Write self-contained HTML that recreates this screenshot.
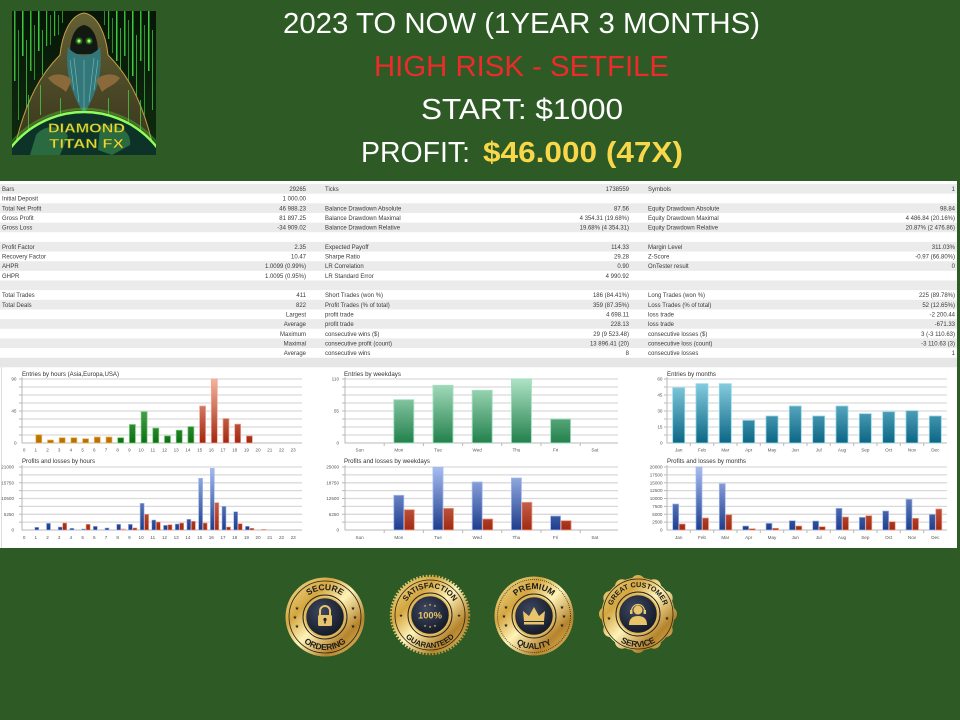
<!DOCTYPE html>
<html><head><meta charset="utf-8"><style>
html,body{margin:0;padding:0;width:960px;height:720px;overflow:hidden;background:#2d5a25;}
svg{display:block;}
</style></head><body>
<svg width="960" height="720" viewBox="0 0 960 720" xmlns="http://www.w3.org/2000/svg" font-family="'Liberation Sans', sans-serif">
<defs>
  <linearGradient id="gOr" gradientUnits="userSpaceOnUse" x1="0" y1="379" x2="0" y2="443"><stop offset="0" stop-color="#f5c26a"/><stop offset="1" stop-color="#b86e00"/></linearGradient>
  <linearGradient id="gGr" gradientUnits="userSpaceOnUse" x1="0" y1="379" x2="0" y2="443"><stop offset="0" stop-color="#7fd07f"/><stop offset="1" stop-color="#0e6e14"/></linearGradient>
  <linearGradient id="gRd" gradientUnits="userSpaceOnUse" x1="0" y1="379" x2="0" y2="443"><stop offset="0" stop-color="#f4b4a0"/><stop offset="1" stop-color="#a3260f"/></linearGradient>
  <linearGradient id="gWk" gradientUnits="userSpaceOnUse" x1="0" y1="379" x2="0" y2="443"><stop offset="0" stop-color="#aee3c5"/><stop offset="1" stop-color="#22804c"/></linearGradient>
  <linearGradient id="gMo" gradientUnits="userSpaceOnUse" x1="0" y1="379" x2="0" y2="443"><stop offset="0" stop-color="#8dd3e6"/><stop offset="1" stop-color="#0b6684"/></linearGradient>
  <linearGradient id="gBl" gradientUnits="userSpaceOnUse" x1="0" y1="467" x2="0" y2="530"><stop offset="0" stop-color="#a8bdf0"/><stop offset="1" stop-color="#1d3d8c"/></linearGradient>
  <linearGradient id="gRb" gradientUnits="userSpaceOnUse" x1="0" y1="467" x2="0" y2="530"><stop offset="0" stop-color="#eda08e"/><stop offset="1" stop-color="#a02a12"/></linearGradient>
  <linearGradient id="gold" gradientUnits="userSpaceOnUse" x1="-40" y1="-40" x2="40" y2="40"><stop offset="0" stop-color="#f8e7a0"/><stop offset="0.3" stop-color="#d4a640"/><stop offset="0.5" stop-color="#fff3b8"/><stop offset="0.75" stop-color="#b5832a"/><stop offset="1" stop-color="#f0d27a"/></linearGradient>
  <radialGradient id="navy" cx="0.4" cy="0.35" r="0.7"><stop offset="0" stop-color="#3d4760"/><stop offset="1" stop-color="#111724"/></radialGradient>
  <linearGradient id="logoBg" x1="0" y1="0" x2="0" y2="1"><stop offset="0" stop-color="#071607"/><stop offset="1" stop-color="#0f2c0f"/></linearGradient>
  <linearGradient id="robe" x1="0" y1="0" x2="0" y2="1"><stop offset="0" stop-color="#646034"/><stop offset="1" stop-color="#34311a"/></linearGradient>
  <clipPath id="logoClip"><rect x="12" y="11" width="144" height="144"/></clipPath>
  <path id="arcT" d="M -27 0 A 27 27 0 0 1 27 0"/>
  <path id="arcB" d="M -33 0 A 33 33 0 0 0 33 0"/>
</defs>

<!-- LOGO -->
<g clip-path="url(#logoClip)">
  <rect x="12" y="11" width="144" height="144" fill="url(#logoBg)"/>
  <g fill="#45de45">
    <rect x="14" y="11" width="1.5" height="70" opacity="0.8"/><rect x="18" y="30" width="1" height="90" opacity="0.6"/>
    <rect x="22" y="11" width="1.5" height="45" opacity="0.9"/><rect x="26" y="40" width="1" height="80" opacity="0.7"/>
    <rect x="30" y="11" width="1.5" height="60" opacity="0.8"/><rect x="34" y="25" width="1" height="55" opacity="0.6"/>
    <rect x="38" y="11" width="1.5" height="40" opacity="0.9"/><rect x="42" y="30" width="1" height="45" opacity="0.7"/>
    <rect x="46" y="11" width="1.2" height="35" opacity="0.8"/><rect x="50" y="15" width="1" height="30" opacity="0.6"/>
    <rect x="54" y="11" width="1.2" height="25" opacity="0.8"/><rect x="58" y="15" width="1" height="20" opacity="0.6"/>
    <rect x="62" y="11" width="1" height="12" opacity="0.6"/><rect x="104" y="11" width="1" height="14" opacity="0.6"/>
    <rect x="108" y="11" width="1.2" height="28" opacity="0.8"/><rect x="112" y="18" width="1" height="35" opacity="0.6"/>
    <rect x="116" y="11" width="1.5" height="50" opacity="0.9"/><rect x="120" y="28" width="1" height="55" opacity="0.7"/>
    <rect x="124" y="11" width="1.5" height="45" opacity="0.8"/><rect x="128" y="20" width="1" height="75" opacity="0.6"/>
    <rect x="132" y="11" width="1.5" height="65" opacity="0.9"/><rect x="136" y="35" width="1" height="70" opacity="0.7"/>
    <rect x="140" y="11" width="1.5" height="50" opacity="0.8"/><rect x="144" y="25" width="1" height="90" opacity="0.6"/>
    <rect x="148" y="11" width="1.5" height="60" opacity="0.9"/><rect x="152" y="30" width="1" height="80" opacity="0.7"/>
  </g>
  <path d="M84 13 C70 15 62 35 60 55 C45 70 25 95 12 160 L156 160 C143 95 123 70 108 55 C106 35 98 15 84 13 Z" fill="url(#robe)" stroke="#c0a048" stroke-width="1"/>
  <path d="M84 25 C74 27 70 39 70 54 L98 54 C98 39 94 27 84 25 Z" fill="#121812"/>
  <circle cx="79" cy="41" r="3.5" fill="#5aff3a" opacity="0.35"/><circle cx="89" cy="41" r="3.5" fill="#5aff3a" opacity="0.35"/>
  <circle cx="79" cy="41" r="1.6" fill="#9aff6a"/><circle cx="89" cy="41" r="1.6" fill="#9aff6a"/>
  <path d="M68 47 C64 75 74 98 84 114 C94 98 104 75 100 47 C92 58 76 58 68 47 Z" fill="#33777a"/>
  <path d="M74 58 L79 102 M84 60 L84 110 M94 58 L89 102 M70 60 L74 90 M98 60 L94 90" stroke="#6ab8b0" stroke-width="0.7" fill="none"/>
  <path d="M48 78 C55 72 66 74 72 80 L66 92 C60 86 54 86 48 78 Z" fill="#8a6a3a"/>
  <path d="M120 78 C113 72 102 74 96 80 L102 92 C108 86 114 86 120 78 Z" fill="#8a6a3a"/>
  <g fill="#45de45" opacity="0.7"><rect x="28" y="95" width="1" height="40"/><rect x="40" y="85" width="1" height="30"/><rect x="128" y="90" width="1" height="40"/><rect x="140" y="100" width="1" height="35"/><rect x="60" y="98" width="1" height="20"/><rect x="108" y="98" width="1" height="20"/></g>
  <circle cx="84" cy="205" r="93" fill="#0d3328" stroke="#8cff5a" stroke-width="2.5"/>
  <circle cx="84" cy="205" r="96" fill="none" stroke="#5adf3a" stroke-width="2.5" opacity="0.35"/>
  <path d="M36 135 C46 123 62 126 68 136 L60 155 L30 155 Z" fill="#2a6a40"/>
  <path d="M100 126 C115 122 132 130 130 145 L112 155 L98 150 Z" fill="#2a6a40"/>
  <text x="86.5" y="132.7" text-anchor="middle" font-size="12.5" font-weight="bold" fill="#f3d23c" stroke="#2d6a14" stroke-width="0.4" textLength="77" lengthAdjust="spacingAndGlyphs">DIAMOND</text>
  <text x="86.5" y="148" text-anchor="middle" font-size="12.5" font-weight="bold" fill="#f3d23c" stroke="#2d6a14" stroke-width="0.4" textLength="75" lengthAdjust="spacingAndGlyphs">TITAN FX</text>
</g>

<!-- HEADER -->
<text x="283" y="33" font-size="29" fill="#ffffff" textLength="477" lengthAdjust="spacingAndGlyphs">2023 TO NOW (1YEAR 3 MONTHS)</text>
<text x="374" y="76" font-size="29" fill="#ee2a2a" textLength="295" lengthAdjust="spacingAndGlyphs">HIGH RISK - SETFILE</text>
<text x="421" y="119" font-size="29" fill="#ffffff" textLength="202" lengthAdjust="spacingAndGlyphs">START: $1000</text>
<text x="361" y="162" font-size="29" fill="#ffffff" textLength="109" lengthAdjust="spacingAndGlyphs">PROFIT:</text>
<text x="483" y="162" font-size="29" font-weight="bold" fill="#f8d84a" textLength="200" lengthAdjust="spacingAndGlyphs">$46.000 (47X)</text>

<!-- WHITE PANEL -->
<rect x="0" y="181" width="957" height="367" fill="#ffffff"/>
<line x1="1.5" y1="367" x2="1.5" y2="548" stroke="#dcdcdc" stroke-width="1"/>
<g fill="#ebebeb">
  <rect x="0" y="184" width="957" height="9.65"/>
  <rect x="0" y="203.3" width="957" height="9.65"/>
  <rect x="0" y="222.6" width="957" height="9.65"/>
  <rect x="0" y="241.9" width="957" height="9.65"/>
  <rect x="0" y="261.2" width="957" height="9.65"/>
  <rect x="0" y="280.5" width="957" height="9.65"/>
  <rect x="0" y="299.8" width="957" height="9.65"/>
  <rect x="0" y="319.1" width="957" height="9.65"/>
  <rect x="0" y="338.4" width="957" height="9.65"/>
  <rect x="0" y="357.7" width="957" height="9.6" fill="#e6e6e6"/>
</g>

<!-- TABLE TEXT -->
<g font-size="6" fill="#3a3a3a">
  <text x="2" y="191">Bars</text><text x="306" y="191" text-anchor="end">29265</text>
  <text x="2" y="200.65">Initial Deposit</text><text x="306" y="200.65" text-anchor="end">1 000.00</text>
  <text x="2" y="210.3">Total Net Profit</text><text x="306" y="210.3" text-anchor="end">46 988.23</text>
  <text x="2" y="219.95">Gross Profit</text><text x="306" y="219.95" text-anchor="end">81 897.25</text>
  <text x="2" y="229.6">Gross Loss</text><text x="306" y="229.6" text-anchor="end">-34 909.02</text>
  <text x="2" y="248.9">Profit Factor</text><text x="306" y="248.9" text-anchor="end">2.35</text>
  <text x="2" y="258.55">Recovery Factor</text><text x="306" y="258.55" text-anchor="end">10.47</text>
  <text x="2" y="268.2">AHPR</text><text x="306" y="268.2" text-anchor="end">1.0099 (0.99%)</text>
  <text x="2" y="277.85">GHPR</text><text x="306" y="277.85" text-anchor="end">1.0095 (0.95%)</text>
  <text x="2" y="297.15">Total Trades</text><text x="306" y="297.15" text-anchor="end">411</text>
  <text x="2" y="306.8">Total Deals</text><text x="306" y="306.8" text-anchor="end">822</text>
  <text x="306" y="316.45" text-anchor="end">Largest</text>
  <text x="306" y="326.1" text-anchor="end">Average</text>
  <text x="306" y="335.75" text-anchor="end">Maximum</text>
  <text x="306" y="345.4" text-anchor="end">Maximal</text>
  <text x="306" y="355.05" text-anchor="end">Average</text>

  <text x="325" y="191">Ticks</text><text x="629" y="191" text-anchor="end">1738559</text>
  <text x="325" y="210.3">Balance Drawdown Absolute</text><text x="629" y="210.3" text-anchor="end">87.56</text>
  <text x="325" y="219.95">Balance Drawdown Maximal</text><text x="629" y="219.95" text-anchor="end">4 354.31 (19.68%)</text>
  <text x="325" y="229.6">Balance Drawdown Relative</text><text x="629" y="229.6" text-anchor="end">19.68% (4 354.31)</text>
  <text x="325" y="248.9">Expected Payoff</text><text x="629" y="248.9" text-anchor="end">114.33</text>
  <text x="325" y="258.55">Sharpe Ratio</text><text x="629" y="258.55" text-anchor="end">29.28</text>
  <text x="325" y="268.2">LR Correlation</text><text x="629" y="268.2" text-anchor="end">0.90</text>
  <text x="325" y="277.85">LR Standard Error</text><text x="629" y="277.85" text-anchor="end">4 990.92</text>
  <text x="325" y="297.15">Short Trades (won %)</text><text x="629" y="297.15" text-anchor="end">186 (84.41%)</text>
  <text x="325" y="306.8">Profit Trades (% of total)</text><text x="629" y="306.8" text-anchor="end">359 (87.35%)</text>
  <text x="325" y="316.45">profit trade</text><text x="629" y="316.45" text-anchor="end">4 698.11</text>
  <text x="325" y="326.1">profit trade</text><text x="629" y="326.1" text-anchor="end">228.13</text>
  <text x="325" y="335.75">consecutive wins ($)</text><text x="629" y="335.75" text-anchor="end">29 (9 523.48)</text>
  <text x="325" y="345.4">consecutive profit (count)</text><text x="629" y="345.4" text-anchor="end">13 896.41 (20)</text>
  <text x="325" y="355.05">consecutive wins</text><text x="629" y="355.05" text-anchor="end">8</text>

  <text x="648" y="191">Symbols</text><text x="955" y="191" text-anchor="end">1</text>
  <text x="648" y="210.3">Equity Drawdown Absolute</text><text x="955" y="210.3" text-anchor="end">98.84</text>
  <text x="648" y="219.95">Equity Drawdown Maximal</text><text x="955" y="219.95" text-anchor="end">4 486.84 (20.16%)</text>
  <text x="648" y="229.6">Equity Drawdown Relative</text><text x="955" y="229.6" text-anchor="end">20.87% (2 476.86)</text>
  <text x="648" y="248.9">Margin Level</text><text x="955" y="248.9" text-anchor="end">311.03%</text>
  <text x="648" y="258.55">Z-Score</text><text x="955" y="258.55" text-anchor="end">-0.97 (66.80%)</text>
  <text x="648" y="268.2">OnTester result</text><text x="955" y="268.2" text-anchor="end">0</text>
  <text x="648" y="297.15">Long Trades (won %)</text><text x="955" y="297.15" text-anchor="end">225 (89.78%)</text>
  <text x="648" y="306.8">Loss Trades (% of total)</text><text x="955" y="306.8" text-anchor="end">52 (12.65%)</text>
  <text x="648" y="316.45">loss trade</text><text x="955" y="316.45" text-anchor="end">-2 200.44</text>
  <text x="648" y="326.1">loss trade</text><text x="955" y="326.1" text-anchor="end">-671.33</text>
  <text x="648" y="335.75">consecutive losses ($)</text><text x="955" y="335.75" text-anchor="end">3 (-3 110.63)</text>
  <text x="648" y="345.4">consecutive loss (count)</text><text x="955" y="345.4" text-anchor="end">-3 110.63 (3)</text>
  <text x="648" y="355.05">consecutive losses</text><text x="955" y="355.05" text-anchor="end">1</text>
</g>

<!-- GRIDLINES -->
<g stroke="#d9d9d9" stroke-width="1.3">
  <path d="M22 379H302M22 387H302M22 395H302M22 403H302M22 411H302M22 419H302M22 427H302M22 435H302"/>
  <path d="M22 467H302M22 474.9H302M22 482.8H302M22 490.6H302M22 498.5H302M22 506.4H302M22 514.3H302M22 522.1H302"/>
  <path d="M345 379H618M345 387H618M345 395H618M345 403H618M345 411H618M345 419H618M345 427H618M345 435H618"/>
  <path d="M345 467H618M345 474.9H618M345 482.8H618M345 490.6H618M345 498.5H618M345 506.4H618M345 514.3H618M345 522.1H618"/>
  <path d="M667 379H947M667 387H947M667 395H947M667 403H947M667 411H947M667 419H947M667 427H947M667 435H947"/>
  <path d="M667 467H947M667 474.9H947M667 482.8H947M667 490.6H947M667 498.5H947M667 506.4H947M667 514.3H947M667 522.1H947"/>
</g>
<g stroke="#b8b8b8" stroke-width="1" fill="none">
  <path d="M22 377V443H302M22 465V530H302"/>
  <path d="M345 377V443H618M345 465V530H618"/>
  <path d="M667 377V443H947M667 465V530H947"/>
  <path d="M19 379H22M19 387H22M19 395H22M19 403H22M19 411H22M19 419H22M19 427H22M19 435H22M19 467H22M19 474.9H22M19 482.8H22M19 490.6H22M19 498.5H22M19 506.4H22M19 514.3H22M19 522.1H22"/>
  <path d="M342 379H345M342 387H345M342 395H345M342 403H345M342 411H345M342 419H345M342 427H345M342 435H345M342 467H345M342 474.9H345M342 482.8H345M342 490.6H345M342 498.5H345M342 506.4H345M342 514.3H345M342 522.1H345"/>
  <path d="M664 379H667M664 387H667M664 395H667M664 403H667M664 411H667M664 419H667M664 427H667M664 435H667M664 467H667M664 474.9H667M664 482.8H667M664 490.6H667M664 498.5H667M664 506.4H667M664 514.3H667M664 522.1H667"/>
  <path d="M384.2 443V446M423.4 443V446M462.6 443V446M501.8 443V446M541 443V446M580.2 443V446M384.2 530V533M423.4 530V533M462.6 530V533M501.8 530V533M541 530V533M580.2 530V533"/>
  <path d="M690.3 443V446M713.7 443V446M737 443V446M760.3 443V446M783.7 443V446M807 443V446M830.3 443V446M853.7 443V446M877 443V446M900.3 443V446M923.7 443V446"/>
  <path d="M690.3 530V533M713.7 530V533M737 530V533M760.3 530V533M783.7 530V533M807 530V533M830.3 530V533M853.7 530V533M877 530V533M900.3 530V533M923.7 530V533"/>
</g>

<!-- CHART TITLES -->
<g font-size="6" fill="#333">
  <text x="22" y="376" textLength="97" lengthAdjust="spacingAndGlyphs">Entries by hours (Asia,Europa,USA)</text>
  <text x="22" y="463" textLength="73" lengthAdjust="spacingAndGlyphs">Profits and losses by hours</text>
  <text x="344" y="376" textLength="57" lengthAdjust="spacingAndGlyphs">Entries by weekdays</text>
  <text x="344" y="463" textLength="86" lengthAdjust="spacingAndGlyphs">Profits and losses by weekdays</text>
  <text x="667" y="376" textLength="49" lengthAdjust="spacingAndGlyphs">Entries by months</text>
  <text x="667" y="463" textLength="79" lengthAdjust="spacingAndGlyphs">Profits and losses by months</text>
</g>

<!-- AXIS LABELS -->
<g font-size="4.6" fill="#555" text-anchor="end">
  <text x="16.5" y="380.6">90</text><text x="16.5" y="412.6">45</text><text x="16.5" y="444.6">0</text>
  <text x="14" y="468.6">21000</text><text x="14" y="484.4">15750</text><text x="14" y="500.1">10500</text><text x="14" y="515.9">5250</text><text x="14" y="531.6">0</text>
  <text x="339" y="380.6">110</text><text x="339" y="412.6">55</text><text x="339" y="444.6">0</text>
  <text x="339" y="468.6">25000</text><text x="339" y="484.4">18750</text><text x="339" y="500.1">12500</text><text x="339" y="515.9">6250</text><text x="339" y="531.6">0</text>
  <text x="662.5" y="380.6">60</text><text x="662.5" y="396.6">45</text><text x="662.5" y="412.6">30</text><text x="662.5" y="428.6">15</text><text x="662.5" y="444.6">0</text>
  <text x="662.5" y="468.6">20000</text><text x="662.5" y="476.5">17500</text><text x="662.5" y="484.4">15000</text><text x="662.5" y="492.2">12500</text><text x="662.5" y="500.1">10000</text><text x="662.5" y="508">7500</text><text x="662.5" y="515.9">5000</text><text x="662.5" y="523.7">2500</text><text x="662.5" y="531.6">0</text>
</g>
<g font-size="4.6" fill="#555" text-anchor="middle">
  <g>
    <text x="24.1" y="451.5">0</text><text x="35.8" y="451.5">1</text><text x="47.5" y="451.5">2</text><text x="59.2" y="451.5">3</text><text x="70.9" y="451.5">4</text><text x="82.6" y="451.5">5</text><text x="94.3" y="451.5">6</text><text x="106" y="451.5">7</text><text x="117.7" y="451.5">8</text><text x="129.4" y="451.5">9</text><text x="141.1" y="451.5">10</text><text x="152.8" y="451.5">11</text><text x="164.5" y="451.5">12</text><text x="176.2" y="451.5">13</text><text x="187.9" y="451.5">14</text><text x="199.6" y="451.5">15</text><text x="211.3" y="451.5">16</text><text x="223" y="451.5">17</text><text x="234.7" y="451.5">18</text><text x="246.4" y="451.5">19</text><text x="258.1" y="451.5">20</text><text x="269.8" y="451.5">21</text><text x="281.5" y="451.5">22</text><text x="293.2" y="451.5">23</text>
  </g>
  <g>
    <text x="24.1" y="539">0</text><text x="35.8" y="539">1</text><text x="47.5" y="539">2</text><text x="59.2" y="539">3</text><text x="70.9" y="539">4</text><text x="82.6" y="539">5</text><text x="94.3" y="539">6</text><text x="106" y="539">7</text><text x="117.7" y="539">8</text><text x="129.4" y="539">9</text><text x="141.1" y="539">10</text><text x="152.8" y="539">11</text><text x="164.5" y="539">12</text><text x="176.2" y="539">13</text><text x="187.9" y="539">14</text><text x="199.6" y="539">15</text><text x="211.3" y="539">16</text><text x="223" y="539">17</text><text x="234.7" y="539">18</text><text x="246.4" y="539">19</text><text x="258.1" y="539">20</text><text x="269.8" y="539">21</text><text x="281.5" y="539">22</text><text x="293.2" y="539">23</text>
  </g>
  <text x="359.6" y="451.5">Sun</text><text x="398.8" y="451.5">Mon</text><text x="438" y="451.5">Tue</text><text x="477.2" y="451.5">Wed</text><text x="516.4" y="451.5">Thu</text><text x="555.6" y="451.5">Fri</text><text x="594.8" y="451.5">Sat</text>
  <text x="359.6" y="539">Sun</text><text x="398.8" y="539">Mon</text><text x="438" y="539">Tue</text><text x="477.2" y="539">Wed</text><text x="516.4" y="539">Thu</text><text x="555.6" y="539">Fri</text><text x="594.8" y="539">Sat</text>
  <text x="678.7" y="451.5">Jan</text><text x="702" y="451.5">Feb</text><text x="725.3" y="451.5">Mar</text><text x="748.7" y="451.5">Apr</text><text x="772" y="451.5">May</text><text x="795.3" y="451.5">Jun</text><text x="818.7" y="451.5">Jul</text><text x="842" y="451.5">Aug</text><text x="865.3" y="451.5">Sep</text><text x="888.7" y="451.5">Oct</text><text x="912" y="451.5">Nov</text><text x="935.3" y="451.5">Dec</text>
  <text x="678.7" y="539">Jan</text><text x="702" y="539">Feb</text><text x="725.3" y="539">Mar</text><text x="748.7" y="539">Apr</text><text x="772" y="539">May</text><text x="795.3" y="539">Jun</text><text x="818.7" y="539">Jul</text><text x="842" y="539">Aug</text><text x="865.3" y="539">Sep</text><text x="888.7" y="539">Oct</text><text x="912" y="539">Nov</text><text x="935.3" y="539">Dec</text>
</g>

<!-- CHART A BARS -->
<g fill="url(#gOr)" stroke="#eeb85a" stroke-width="0.7">
  <rect x="35.8" y="434.7" width="6" height="8.3"/><rect x="47.5" y="440" width="6" height="3"/><rect x="59.2" y="437.7" width="6" height="5.3"/><rect x="70.9" y="437.7" width="6" height="5.3"/><rect x="82.6" y="438.7" width="6" height="4.3"/><rect x="94.3" y="437" width="6" height="6"/><rect x="106" y="437" width="6" height="6"/>
</g>
<g fill="url(#gGr)" stroke="#6fd06f" stroke-width="0.7">
  <rect x="117.7" y="437.7" width="6" height="5.3"/><rect x="129.4" y="424.5" width="6" height="18.5"/><rect x="141.1" y="411.7" width="6" height="31.3"/><rect x="152.8" y="428.1" width="6" height="14.9"/><rect x="164.5" y="435.9" width="6" height="7.1"/><rect x="176.2" y="430.2" width="6" height="12.8"/><rect x="187.9" y="426.6" width="6" height="16.4"/>
</g>
<g fill="url(#gRd)" stroke="#f0a894" stroke-width="0.7">
  <rect x="199.6" y="406" width="6" height="37"/><rect x="211.3" y="379" width="6" height="64"/><rect x="223" y="418.5" width="6" height="24.5"/><rect x="234.7" y="424.1" width="6" height="18.9"/><rect x="246.4" y="435.9" width="6" height="7.1"/>
</g>

<!-- CHART B BARS -->
<g fill="url(#gBl)" stroke="#a0b8f0" stroke-width="0.6">
  <rect x="34.8" y="527.3" width="4" height="2.7"/><rect x="46.5" y="523.3" width="4" height="6.7"/><rect x="58.2" y="527" width="4" height="3"/><rect x="69.9" y="528.3" width="4" height="1.7"/><rect x="81.6" y="529" width="4" height="1"/><rect x="93.3" y="526.3" width="4" height="3.7"/><rect x="105" y="528" width="4" height="2"/><rect x="116.7" y="524.3" width="4" height="5.7"/><rect x="128.4" y="524.3" width="4" height="5.7"/><rect x="140.1" y="503.3" width="4" height="26.7"/><rect x="151.8" y="520" width="4" height="10"/><rect x="163.5" y="525.3" width="4" height="4.7"/><rect x="175.2" y="524" width="4" height="6"/><rect x="186.9" y="519.3" width="4" height="10.7"/><rect x="198.6" y="478.3" width="4" height="51.7"/><rect x="210.3" y="468.3" width="4" height="61.7"/><rect x="222" y="506.3" width="4" height="23.7"/><rect x="233.7" y="511.7" width="4" height="18.3"/><rect x="245.4" y="526.3" width="4" height="3.7"/>
</g>
<g fill="url(#gRb)" stroke="#f09880" stroke-width="0.6">
  <rect x="62.7" y="523" width="4" height="7"/><rect x="86.1" y="524.3" width="4" height="5.7"/><rect x="121.2" y="529" width="4" height="1" fill="#f4b0a0"/><rect x="132.9" y="528" width="4" height="2"/><rect x="144.6" y="514.3" width="4" height="15.7"/><rect x="156.3" y="522" width="4" height="8"/><rect x="168" y="524.7" width="4" height="5.3"/><rect x="179.7" y="523" width="4" height="7"/><rect x="191.4" y="521.3" width="4" height="8.7"/><rect x="203.1" y="523" width="4" height="7"/><rect x="214.8" y="502.7" width="4" height="27.3"/><rect x="226.5" y="527" width="4" height="3"/><rect x="238.2" y="523.7" width="4" height="6.3"/><rect x="249.9" y="528.3" width="4" height="1.7"/><rect x="261.6" y="529.3" width="4" height="0.7" fill="#f4b0a0"/>
</g>

<!-- CHART C BARS -->
<g fill="url(#gWk)" stroke="#a0e0c0" stroke-width="0.9">
  <rect x="393.8" y="399.7" width="20" height="43.3"/><rect x="433" y="385.3" width="20" height="57.7"/><rect x="472.2" y="390.3" width="20" height="52.7"/><rect x="511.4" y="379" width="20" height="64"/><rect x="550.6" y="419" width="20" height="24"/>
</g>

<!-- CHART D BARS -->
<g fill="url(#gBl)" stroke="#a0b8f0" stroke-width="0.8">
  <rect x="393.8" y="495.3" width="10" height="34.7"/><rect x="433" y="467.3" width="10" height="62.7"/><rect x="472.2" y="482" width="10" height="48"/><rect x="511.4" y="478" width="10" height="52"/><rect x="550.6" y="516" width="10" height="14"/>
</g>
<g fill="url(#gRb)" stroke="#f09880" stroke-width="0.8">
  <rect x="404.3" y="509.7" width="10" height="20.3"/><rect x="443.5" y="508.3" width="10" height="21.7"/><rect x="482.7" y="519" width="10" height="11"/><rect x="521.9" y="502.3" width="10" height="27.7"/><rect x="561.1" y="520.7" width="10" height="9.3"/>
</g>

<!-- CHART E BARS -->
<g fill="url(#gMo)" stroke="#90d8ea" stroke-width="0.8">
  <rect x="672.7" y="387.7" width="12" height="55.3"/><rect x="696" y="383.7" width="12" height="59.3"/><rect x="719.3" y="383.7" width="12" height="59.3"/><rect x="742.7" y="420.3" width="12" height="22.7"/><rect x="766" y="416" width="12" height="27"/><rect x="789.3" y="406" width="12" height="37"/><rect x="812.7" y="416" width="12" height="27"/><rect x="836" y="406" width="12" height="37"/><rect x="859.3" y="413.7" width="12" height="29.3"/><rect x="882.7" y="411.7" width="12" height="31.3"/><rect x="906" y="410.7" width="12" height="32.3"/><rect x="929.3" y="416" width="12" height="27"/>
</g>

<!-- CHART F BARS -->
<g fill="url(#gBl)" stroke="#a0b8f0" stroke-width="0.7">
  <rect x="672.7" y="504" width="6" height="26"/><rect x="696" y="467" width="6" height="63"/><rect x="719.3" y="483.7" width="6" height="46.3"/><rect x="742.7" y="526" width="6" height="4"/><rect x="766" y="523.3" width="6" height="6.7"/><rect x="789.3" y="520.7" width="6" height="9.3"/><rect x="812.7" y="521" width="6" height="9"/><rect x="836" y="508.3" width="6" height="21.7"/><rect x="859.3" y="517.3" width="6" height="12.7"/><rect x="882.7" y="511" width="6" height="19"/><rect x="906" y="499.3" width="6" height="30.7"/><rect x="929.3" y="514.3" width="6" height="15.7"/>
</g>
<g fill="url(#gRb)" stroke="#f09880" stroke-width="0.7">
  <rect x="679.2" y="524" width="6" height="6"/><rect x="702.5" y="518" width="6" height="12"/><rect x="725.8" y="514.7" width="6" height="15.3"/><rect x="749.2" y="528.7" width="6" height="1.3"/><rect x="772.5" y="528.3" width="6" height="1.7"/><rect x="795.8" y="526" width="6" height="4"/><rect x="819.2" y="526.7" width="6" height="3.3"/><rect x="842.5" y="517" width="6" height="13"/><rect x="865.8" y="515.7" width="6" height="14.3"/><rect x="889.2" y="521.7" width="6" height="8.3"/><rect x="912.5" y="518.3" width="6" height="11.7"/><rect x="935.8" y="509" width="6" height="21"/>
</g>

<!-- BADGES -->
<g font-weight="bold" fill="#1b1b1b">
  <!-- Badge 1 -->
  <g transform="translate(325,617)">
    <circle r="39.5" fill="url(#gold)"/>
    <circle r="36" fill="none" stroke="#2a2416" stroke-width="0.8"/>
    <circle r="22" fill="none" stroke="#2a2416" stroke-width="1"/>
    <circle r="19.5" fill="url(#navy)" stroke="#e0b85a" stroke-width="1.5"/>
    <text font-size="8.5" text-anchor="middle"><textPath href="#arcT" startOffset="50%">SECURE</textPath></text>
    <text font-size="8.5" text-anchor="middle"><textPath href="#arcB" startOffset="50%">ORDERING</textPath></text>
    <g font-family="'DejaVu Sans', sans-serif" font-size="5" text-anchor="middle"><text x="-28" y="-7">★</text><text x="-30" y="2">★</text><text x="-28" y="11">★</text><text x="28" y="-7">★</text><text x="30" y="2">★</text><text x="28" y="11">★</text></g>
    <path d="M -5 -2 v -4 a 5 5 0 0 1 10 0 v 4" stroke="#e8c46a" stroke-width="2" fill="none"/>
    <rect x="-7" y="-2" width="14" height="11" rx="1.5" fill="#e8c46a"/>
    <circle cx="0" cy="2.5" r="1.6" fill="#1a2030"/><rect x="-0.7" y="3" width="1.4" height="3.5" fill="#1a2030"/>
  </g>
  <!-- Badge 2 -->
  <g transform="translate(430,615)">
    <circle r="39" fill="none" stroke="url(#gold)" stroke-width="2.5" stroke-dasharray="1.6 1.6"/>
    <circle r="38.3" fill="url(#gold)"/>
    <circle r="35" fill="none" stroke="#2a2416" stroke-width="0.8"/>
    <circle r="22" fill="none" stroke="#2a2416" stroke-width="1"/>
    <circle r="19.5" fill="url(#navy)" stroke="#e0b85a" stroke-width="1.5"/>
    <text font-size="7.8" text-anchor="middle"><textPath href="#arcT" startOffset="50%">SATISFACTION</textPath></text>
    <text font-size="7.8" text-anchor="middle"><textPath href="#arcB" startOffset="50%">GUARANTEED</textPath></text>
    <g font-family="'DejaVu Sans', sans-serif" font-size="4.5" text-anchor="middle"><text x="-29" y="2">★</text><text x="29" y="2">★</text></g>
    <text x="0" y="3.5" font-size="9.5" text-anchor="middle" fill="#e8c46a" textLength="24" lengthAdjust="spacingAndGlyphs">100%</text>
    <g font-family="'DejaVu Sans', sans-serif" font-size="3.5" text-anchor="middle" fill="#e8c46a"><text x="-5" y="-8">★</text><text x="0" y="-9">★</text><text x="5" y="-8">★</text><text x="-5" y="12">★</text><text x="0" y="13">★</text><text x="5" y="12">★</text></g>
  </g>
  <!-- Badge 3 -->
  <g transform="translate(534,616)">
    <circle r="39.5" fill="url(#gold)"/>
    <circle r="36.5" fill="none" stroke="#2a2416" stroke-width="0.9" stroke-dasharray="0.8 1.2"/>
    <circle r="22" fill="none" stroke="#2a2416" stroke-width="1"/>
    <circle r="19.5" fill="url(#navy)" stroke="#e0b85a" stroke-width="1.5"/>
    <text font-size="8.5" text-anchor="middle"><textPath href="#arcT" startOffset="50%">PREMIUM</textPath></text>
    <text font-size="8.5" text-anchor="middle"><textPath href="#arcB" startOffset="50%">QUALITY</textPath></text>
    <g font-family="'DejaVu Sans', sans-serif" font-size="5" text-anchor="middle"><text x="-28" y="-7">★</text><text x="-30" y="2">★</text><text x="-28" y="11">★</text><text x="28" y="-7">★</text><text x="30" y="2">★</text><text x="28" y="11">★</text></g>
    <polygon points="-10,5 -11,-5 -5,0 0,-9 5,0 11,-5 10,5" fill="#e8c46a"/>
    <rect x="-10" y="6" width="20" height="2.5" fill="#e8c46a"/>
  </g>
  <!-- Badge 4 -->
  <g transform="translate(638,614)">
    <g fill="url(#gold)">
      <circle r="36.5"/>
      <circle cx="32" cy="0" r="7"/><circle cx="27.7" cy="16" r="7"/><circle cx="16" cy="27.7" r="7"/><circle cx="0" cy="32" r="7"/><circle cx="-16" cy="27.7" r="7"/><circle cx="-27.7" cy="16" r="7"/><circle cx="-32" cy="0" r="7"/><circle cx="-27.7" cy="-16" r="7"/><circle cx="-16" cy="-27.7" r="7"/><circle cx="0" cy="-32" r="7"/><circle cx="16" cy="-27.7" r="7"/><circle cx="27.7" cy="-16" r="7"/>
    </g>
    <circle r="35" fill="none" stroke="#2a2416" stroke-width="0.8"/>
    <circle r="22" fill="none" stroke="#2a2416" stroke-width="1"/>
    <circle r="19.5" fill="url(#navy)" stroke="#e0b85a" stroke-width="1.5"/>
    <text font-size="7.2" text-anchor="middle"><textPath href="#arcT" startOffset="50%">GREAT CUSTOMER</textPath></text>
    <text font-size="8.5" text-anchor="middle"><textPath href="#arcB" startOffset="50%">SERVICE</textPath></text>
    <g font-family="'DejaVu Sans', sans-serif" font-size="5" text-anchor="middle"><text x="-29" y="6">★</text><text x="29" y="6">★</text></g>
    <circle cx="0" cy="-4" r="4.5" fill="#e8c46a"/>
    <path d="M -9 11 Q -9 2 0 2 Q 9 2 9 11 Z" fill="#e8c46a"/>
    <path d="M -6.5 -3 a 6.5 6.5 0 0 1 13 0" stroke="#e8c46a" stroke-width="1.2" fill="none"/>
    <rect x="-8" y="-4" width="2.5" height="4" fill="#e8c46a"/><rect x="5.5" y="-4" width="2.5" height="4" fill="#e8c46a"/>
  </g>
</g>
</svg>
</body></html>
